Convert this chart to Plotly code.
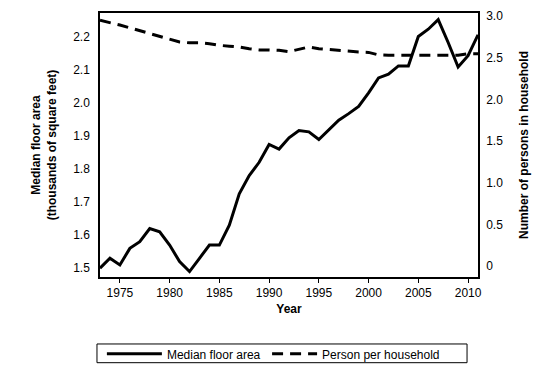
import plotly.graph_objects as go

years = list(range(1973, 2012))
median_floor_area = [1.50, 1.53, 1.51, 1.56, 1.58, 1.62, 1.61, 1.57, 1.52, 1.49,
                     1.53, 1.57, 1.57, 1.63, 1.725, 1.78, 1.82, 1.874, 1.86, 1.894,
                     1.916, 1.912, 1.889, 1.919, 1.947, 1.967, 1.989, 2.03, 2.075, 2.086,
                     2.111, 2.111, 2.20, 2.222, 2.251, 2.182, 2.108, 2.142, 2.205]
persons_per_household = [2.95, 2.925, 2.894, 2.86, 2.826, 2.79, 2.76, 2.73, 2.69, 2.68,
                         2.68, 2.67, 2.65, 2.64, 2.63, 2.61, 2.595, 2.595, 2.59, 2.574,
                         2.60, 2.63, 2.61, 2.60, 2.59, 2.575, 2.57, 2.565, 2.535, 2.53,
                         2.53, 2.53, 2.53, 2.53, 2.53, 2.53, 2.53, 2.55, 2.55]

x_ticks = [1975, 1980, 1985, 1990, 1995, 2000, 2005, 2010]
left_ticks = [1.5, 1.6, 1.7, 1.8, 1.9, 2.0, 2.1, 2.2]
right_ticks = [0, 0.5, 1.0, 1.5, 2.0, 2.5, 3.0]
right_labels = ["0", "0.5", "1.0", "1.5", "2.0", "2.5", "3.0"]

font = "Liberation Sans, Arial, sans-serif"

fig = go.Figure()
fig.add_trace(go.Scatter(x=years, y=median_floor_area, mode="lines",
                         name="Median floor area", legend="legend",
                         line=dict(color="black", width=3)))
fig.add_trace(go.Scatter(x=years, y=persons_per_household, mode="lines",
                         name="Person per household", yaxis="y2", legend="legend2",
                         line=dict(color="black", width=3, dash="11px,7px")))

legend_common = dict(orientation="h", yanchor="middle", xanchor="left", y=-0.291,
                     bgcolor="rgba(0,0,0,0)", borderwidth=0,
                     font=dict(family=font, size=12))

fig.update_layout(
    width=555, height=376,
    margin=dict(l=92, r=85, t=1, b=107),
    paper_bgcolor="white", plot_bgcolor="white",
    font=dict(family=font, size=12, color="black"),
    showlegend=True,
    legend=dict(x=0.005, itemwidth=55, **legend_common),
    legend2=dict(x=0.442, itemwidth=45, **legend_common),
    shapes=[dict(type="rect", xref="paper", yref="paper",
                 x0=-0.008, x1=0.971, y0=-0.2537, y1=-0.3246,
                 line=dict(color="black", width=1), fillcolor="rgba(0,0,0,0)")],
    xaxis=dict(range=[1973, 2011], tickvals=x_ticks, showgrid=False, zeroline=False,
               showline=True, linecolor="black", linewidth=1.5, mirror=True,
               ticks="outside", ticklen=4, tickcolor="black",
               title=dict(text="<b>Year</b>", standoff=5,
                          font=dict(family=font, size=12))),
    yaxis=dict(range=[1.4735, 2.271], tickvals=left_ticks, tickformat=".1f",
               showgrid=False, zeroline=False, showline=True, linecolor="black",
               linewidth=1.5, ticks="", ticklabelstandoff=6, ticklabeloverflow="allow",
               title=dict(text="<b>Median floor area<br>(thousands of square feet)</b>",
                          standoff=14, font=dict(family=font, size=12))),
    yaxis2=dict(range=[-0.13, 3.038], tickvals=right_ticks, ticktext=right_labels,
                overlaying="y", side="right", showgrid=False, zeroline=False,
                showline=True, linecolor="black", linewidth=1.5, ticks="",
                ticklabelstandoff=4, ticklabeloverflow="allow",
                title=dict(text="<b>Number of persons in household</b>",
                           standoff=17, font=dict(family=font, size=12))),
)

fig.write_html("out.html")
